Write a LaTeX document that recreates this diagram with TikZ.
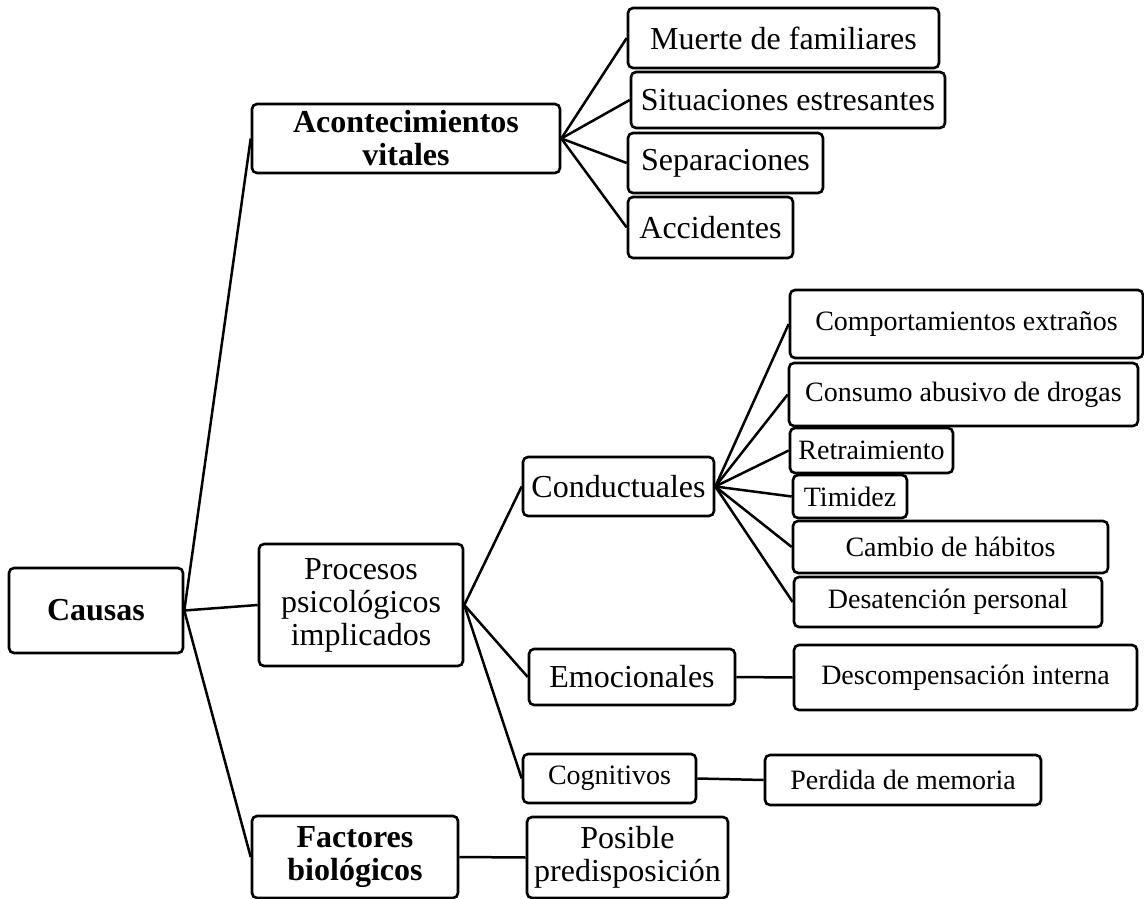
\documentclass[tikz,border=0pt]{standalone}
\usepackage{fontspec}
\setmainfont{Liberation Serif}
\tikzset{
  bx/.style={draw, rounded corners=5pt, line width=2.6pt, inner sep=1pt, align=center},
  big/.style={font=\fontsize{32}{33}\selectfont},
  bigb/.style={font=\fontsize{32}{33}\selectfont\bfseries},
  small/.style={font=\fontsize{28}{30}\selectfont},
  conn/.style={line width=2.5pt}
}
\begin{document}
\begin{tikzpicture}[x=1pt,y=-1pt]
\useasboundingbox (0,0) rectangle (1144,899);
% level 0
\node[bx,bigb,minimum width=174pt,minimum height=85pt] (causas) at (96,610.5) {Causas};
% level 1
\node[bx,bigb,minimum width=308pt,minimum height=69pt] (acon) at (406,138.5) {Acontecimientos\\vitales};
\node[bx,big,minimum width=204pt,minimum height=122pt] (proc) at (361,605) {Procesos\\psicológicos\\implicados};
\node[bx,bigb,minimum width=206pt,minimum height=82pt] (fact) at (355,857) {Factores\\biológicos};
% acontecimientos leaves
\node[bx,big,minimum width=311pt,minimum height=60pt] (muerte) at (783.5,38) {Muerte de familiares};
\node[bx,big,minimum width=314pt,minimum height=56pt] (situ) at (788,100) {Situaciones estresantes};
\node[bx,big,minimum width=195pt,minimum height=60pt] (sepa) at (725.5,163) {Separaciones};
\node[bx,big,minimum width=165pt,minimum height=61pt] (acci) at (710.5,227.5) {Accidentes};
% procesos children
\node[bx,big,minimum width=191pt,minimum height=59pt] (cond) at (618.5,486.5) {Conductuales};
\node[bx,big,minimum width=206pt,minimum height=56pt] (emoc) at (632,677) {Emocionales};
\node[bx,small,minimum width=173pt,minimum height=49pt] (cogn) at (609.5,778.5) {Cognitivos};
% conductuales leaves
\node[bx,small,minimum width=353pt,minimum height=68pt] (comp) at (966.5,324) {Comportamientos extraños};
\node[bx,small,minimum width=349pt,minimum height=63pt] (cons) at (963.5,394.5) {Consumo abusivo de drogas};
\node[bx,small,minimum width=163pt,minimum height=45pt] (retr) at (871.5,450.5) {Retraimiento};
\node[bx,small,minimum width=114pt,minimum height=43pt] (timi) at (850,496.5) {Timidez};
\node[bx,small,minimum width=315pt,minimum height=52pt] (camb) at (950.5,547) {Cambio de hábitos};
\node[bx,small,minimum width=308pt,minimum height=50pt] (desa) at (948,602) {Desatención personal};
% other leaves
\node[bx,small,minimum width=343pt,minimum height=65pt] (desc) at (965.5,677.5) {Descompensación interna};
\node[bx,small,minimum width=276pt,minimum height=50pt] (perd) at (903,780) {Perdida de memoria};
\node[bx,big,minimum width=201pt,minimum height=81pt] (posi) at (627.5,857.5) {Posible\\predisposición};
% connectors
\draw[conn] (causas.east) -- (acon.west);
\draw[conn] (causas.east) -- (proc.west);
\draw[conn] (causas.east) -- (fact.west);
\foreach \n in {muerte,situ,sepa,acci} \draw[conn] (acon.east) -- (\n.west);
\foreach \n in {cond,emoc,cogn} \draw[conn] (proc.east) -- (\n.west);
\foreach \n in {comp,cons,retr,timi,camb,desa} \draw[conn] (cond.east) -- (\n.west);
\draw[conn] (emoc.east) -- (desc.west);
\draw[conn] (cogn.east) -- (perd.west);
\draw[conn] (fact.east) -- (posi.west);
\end{tikzpicture}
\end{document}
